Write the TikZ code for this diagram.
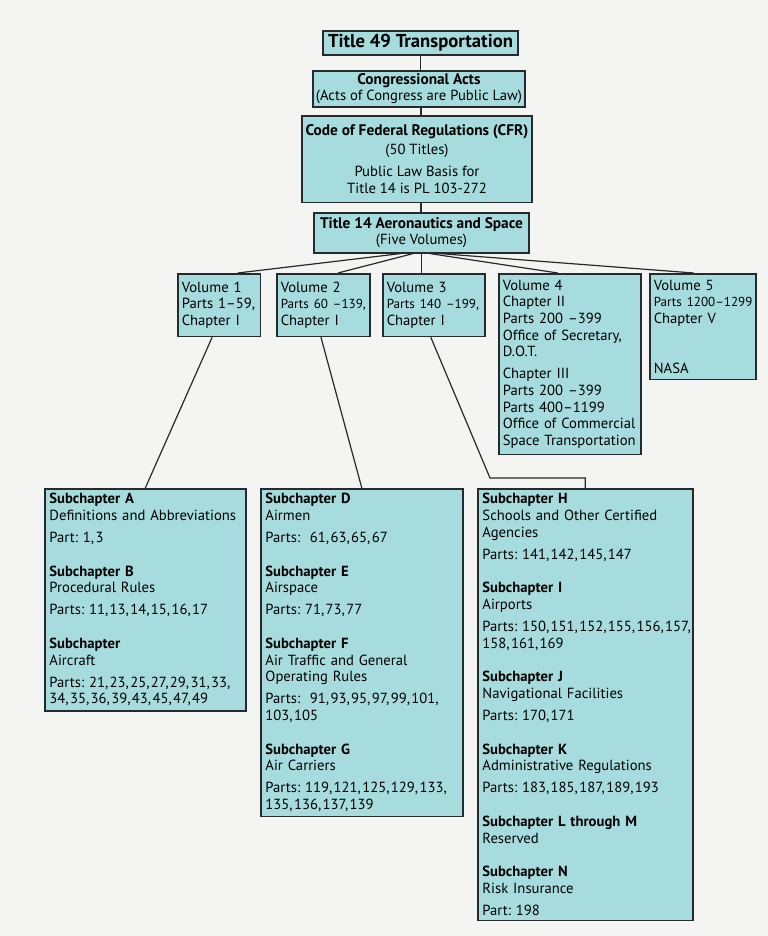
\documentclass[tikz,border=0pt]{standalone}
\usepackage{fontspec}
\setmainfont{PT Sans}
\usetikzlibrary{positioning, calc}
\definecolor{boxfill}{RGB}{166,220,222}
\definecolor{paper}{RGB}{244,244,242}
\definecolor{edge}{RGB}{38,42,44}
% tight comma in the lists of parts
\newcommand{\pc}{,\kern1pt}
% a range of parts kept on one line
\newcommand{\partsline}[1]{\mbox{\fontsize{9.8}{12.5}\selectfont #1}}

\tikzset{
  box/.style={draw=edge, line width=1.2pt, fill=boxfill, inner sep=0pt,
    font=\fontsize{11}{12.5}\selectfont},
  topbox/.style={box, align=center, anchor=north},
  volbox/.style={box, align=left, anchor=north west, inner xsep=3pt, inner ysep=4.5pt},
  subbox/.style={box, align=left, anchor=north west, inner xsep=3.5pt, inner ysep=3.5pt},
  link/.style={draw=edge, line width=0.9pt},
}

\begin{document}
\begin{tikzpicture}[x=0.75pt, y=-0.75pt]
  \fill[paper] (0,0) rectangle (768,936);

  % top of the tree
  \node[topbox, minimum width=146pt, minimum height=18pt,
        font=\fontsize{14}{15}\selectfont\bfseries] (title49) at (420.5,30) {Title 49 Transportation};
  \node[topbox, minimum width=159pt, minimum height=27pt] (congress) at (419,70)
    {{\fontsize{11.5}{12.5}\selectfont\bfseries Congressional Acts}\\(Acts of Congress are Public Law)};
  \node[topbox, minimum width=172.5pt, minimum height=65pt] (cfr) at (417,115)
    {{\fontsize{11.5}{12.5}\selectfont\bfseries Code of Federal Regulations (CFR)}\\[1.5pt](50 Titles)\\[4pt]Public Law Basis for\\Title 14 is PL 103-272};
  \node[topbox, minimum width=161pt, minimum height=30pt] (title14) at (421.5,212)
    {{\fontsize{11.5}{12.5}\selectfont\bfseries Title 14 Aeronautics and Space}\\(Five Volumes)};

  \draw[link] (title49.south) -- (title49.south |- congress.north);
  \draw[link] (congress.south) ++(2,0) coordinate (c1) -- (c1 |- cfr.north);
  \draw[link] (cfr.south) ++(4,0) coordinate (c2) -- (c2 |- title14.north);

  % volumes
  \node[volbox, text width=56pt, minimum height=47pt] (vol1) at (177,273)
    {Volume 1\\\mbox{Parts 1--59,}\\Chapter I};
  \node[volbox, text width=64pt, minimum height=47pt] (vol2) at (276,273)
    {Volume 2\\\partsline{Parts 60 --139,}\\Chapter I};
  \node[volbox, text width=70.5pt, minimum height=47pt] (vol3) at (382,273)
    {Volume 3\\\partsline{Parts 140 --199,}\\Chapter I};
  \node[volbox, text width=100.5pt] (vol4) at (498,273)
    {Volume 4\\Chapter II\\\mbox{Parts 200 --399}\\Office of Secretary,\\D.O.T.\\[4pt]Chapter III\\\mbox{Parts 200 --399}\\\mbox{Parts 400--1199}\\Office of Commercial\\Space Transportation};
  \node[volbox, text width=73.5pt] (vol5) at (649,273)
    {Volume 5\\\partsline{Parts 1200--1299}\\Chapter V\\[25pt]NASA};

  \draw[link] ($(title14.south)+(-21,0)$) -- ($(vol1.north)+(18.5,0)$);
  \draw[link] ($(title14.south)+(-8.5,0)$) -- ($(vol2.north)+(14.5,0)$);
  \draw[link] (title14.south) -- (title14.south |- vol3.north);
  \draw[link] ($(title14.south)+(8.5,0)$) -- ($(vol4.north)+(-12,0)$);
  \draw[link] ($(title14.south)+(18.5,0)$) -- ($(vol5.north)+(-9,0)$);

  % subchapters
  \node[subbox, text width=143.75pt] (subA) at (44,488)
    {\textbf{Subchapter A}\\Definitions and Abbreviations\\[4pt]Part:~1\pc 3\\[12.75pt]
     \textbf{Subchapter B}\\Procedural Rules\\[4pt]Parts:~11\pc 13\pc 14\pc 15\pc 16\pc 17\\[12.75pt]
     \textbf{Subchapter}\\Aircraft\\[4pt]Parts:~21\pc 23\pc 25\pc 27\pc 29\pc 31\pc 33,\\34\pc 35\pc 36\pc 39\pc 43\pc 45\pc 47\pc 49};
  \node[subbox, text width=144.5pt] (subD) at (260,488)
    {\textbf{Subchapter D}\\Airmen\\[4pt]Parts:~~61\pc 63\pc 65\pc 67\\[12.75pt]
     \textbf{Subchapter E}\\Airspace\\[4pt]Parts:~71\pc 73\pc 77\\[12.75pt]
     \textbf{Subchapter F}\\Air Traffic and General\\Operating Rules\\[4pt]Parts:~~91\pc 93\pc 95\pc 97\pc 99\pc 101,\\103\pc 105\\[12.75pt]
     \textbf{Subchapter G}\\Air Carriers\\[4pt]Parts:~119\pc 121\pc 125\pc 129\pc 133,\\135\pc 136\pc 137\pc 139};
  \node[subbox, text width=154.25pt] (subH) at (477,488)
    {\textbf{Subchapter H}\\Schools and Other Certified\\Agencies\\[4pt]Parts:~141\pc 142\pc 145\pc 147\\[12.75pt]
     \textbf{Subchapter I}\\Airports\\[4pt]Parts:~150\pc 151\pc 152\pc 155\pc 156\pc 157,\\158\pc 161\pc 169\\[12.75pt]
     \textbf{Subchapter J}\\Navigational Facilities\\[4pt]Parts:~170\pc 171\\[12.75pt]
     \textbf{Subchapter K}\\Administrative Regulations\\[4pt]Parts:~183\pc 185\pc 187\pc 189\pc 193\\[12.75pt]
     \textbf{Subchapter L through M}\\Reserved\\[12.75pt]
     \textbf{Subchapter N}\\Risk Insurance\\[4pt]Part:~198};

  \draw[link] ($(vol1.south)+(-7,0)$) -- (subA.north);
  \draw[link] ($(vol2.south)+(-2.5,0)$) -- (subD.north);
  \draw[link] ($(vol3.south)+(-3,0)$) -- ($(subH.north west)+(13,-10)$)
    -- ($(subH.north)+(0,-10)$) -- (subH.north);
\end{tikzpicture}
\end{document}
